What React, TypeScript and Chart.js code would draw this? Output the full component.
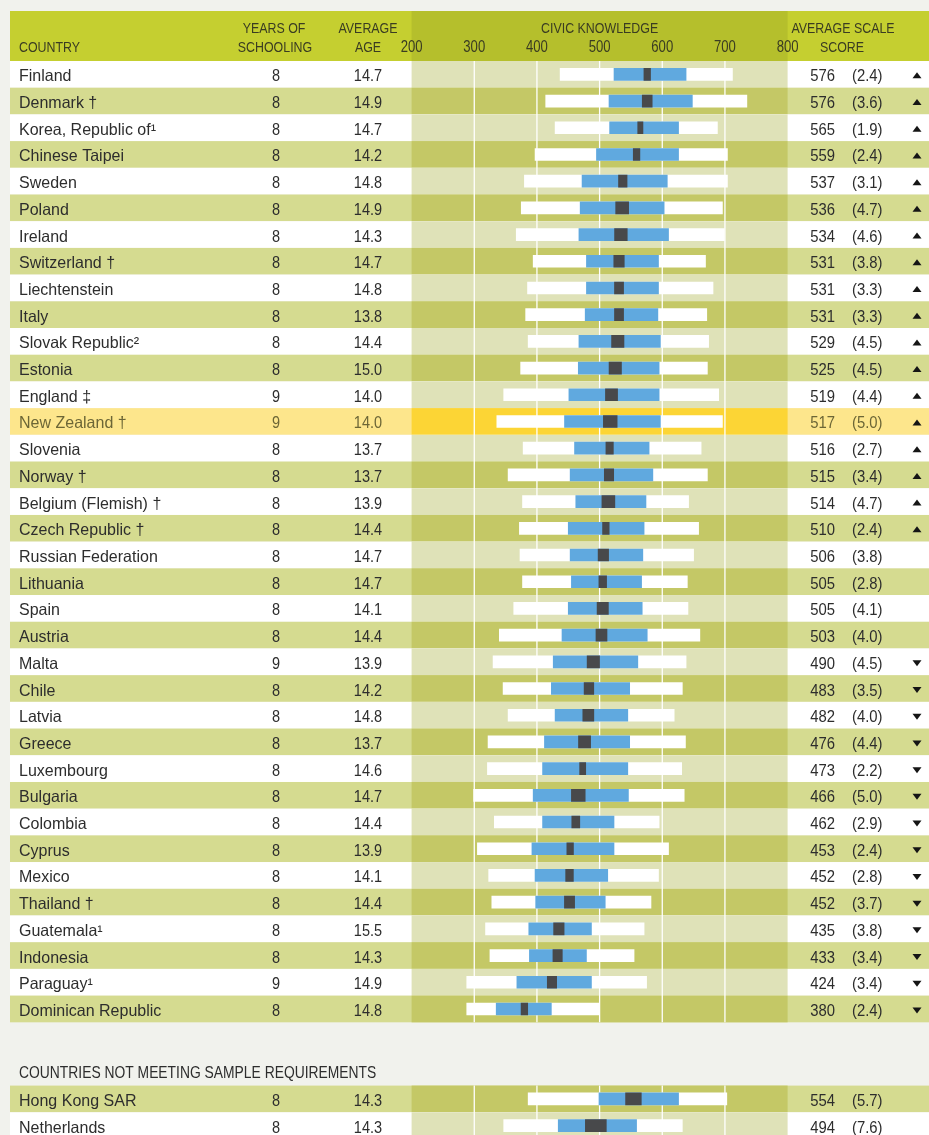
import React, { useEffect, useRef } from "react";
import { Chart, registerables } from "chart.js";

Chart.register(...registerables);

// ---------------- DATA ----------------
const countries = [
  "Finland", "Denmark †", "Korea, Republic of¹", "Chinese Taipei", "Sweden", "Poland", "Ireland",
  "Switzerland †", "Liechtenstein", "Italy", "Slovak Republic²", "Estonia", "England ‡", "New Zealand †",
  "Slovenia", "Norway †", "Belgium (Flemish) †", "Czech Republic †", "Russian Federation", "Lithuania", "Spain",
  "Austria", "Malta", "Chile", "Latvia", "Greece", "Luxembourg", "Bulgaria",
  "Colombia", "Cyprus", "Mexico", "Thailand †", "Guatemala¹", "Indonesia", "Paraguay¹", "Dominican Republic",
  "Hong Kong SAR", "Netherlands",
];
const yearsOfSchooling = [
  "8", "8", "8", "8", "8", "8", "8",
  "8", "8", "8", "8", "8", "9", "9",
  "8", "8", "8", "8", "8", "8", "8",
  "8", "9", "8", "8", "8", "8", "8",
  "8", "8", "8", "8", "8", "8", "9", "8",
  "8", "8",
];
const averageAge = [
  "14.7", "14.9", "14.7", "14.2", "14.8", "14.9", "14.3",
  "14.7", "14.8", "13.8", "14.4", "15.0", "14.0", "14.0",
  "13.7", "13.7", "13.9", "14.4", "14.7", "14.7", "14.1",
  "14.4", "13.9", "14.2", "14.8", "13.7", "14.6", "14.7",
  "14.4", "13.9", "14.1", "14.4", "15.5", "14.3", "14.9", "14.8",
  "14.3", "14.3",
];
const averageScore = [
  576, 576, 565, 559, 537, 536, 534,
  531, 531, 531, 529, 525, 519, 517,
  516, 515, 514, 510, 506, 505, 505,
  503, 490, 483, 482, 476, 473, 466,
  462, 453, 452, 452, 435, 433, 424, 380,
  554, 494,
];
const standardError = [
  2.4, 3.6, 1.9, 2.4, 3.1, 4.7, 4.6,
  3.8, 3.3, 3.3, 4.5, 4.5, 4.4, 5.0,
  2.7, 3.4, 4.7, 2.4, 3.8, 2.8, 4.1,
  4.0, 4.5, 3.5, 4.0, 4.4, 2.2, 5.0,
  2.9, 2.4, 2.8, 3.7, 3.8, 3.4, 3.4, 2.4,
  5.7, 7.6,
];
const percentile5 = [
  437, 414, 429, 397, 380, 375, 367,
  394, 385, 382, 386, 374, 347, 336,
  378, 354, 377, 372, 373, 377, 363,
  340, 330, 346, 354, 322, 321, 299,
  332, 305, 323, 328, 318, 325, 288, 288,
  386, 347,
];
const percentile25 = [
  523, 515, 516, 495, 472, 469, 467,
  479, 479, 477, 467, 466, 451, 444,
  460, 453, 462, 450, 453, 455, 450,
  440, 426, 423, 429, 412, 409, 394,
  409, 392, 397, 398, 387, 388, 368, 335,
  499, 434,
];
const percentile75 = [
  638, 648, 626, 626, 608, 603, 610,
  594, 594, 593, 597, 595, 595, 597,
  579, 585, 574, 571, 569, 567, 568,
  576, 561, 548, 545, 548, 545, 546,
  523, 523, 513, 509, 487, 479, 487, 423,
  626, 559,
];
const percentile95 = [
  712, 735, 688, 704, 704, 696, 699,
  669, 681, 671, 674, 672, 690, 696,
  662, 672, 642, 658, 650, 640, 641,
  660, 638, 632, 619, 637, 631, 635,
  595, 610, 594, 582, 571, 555, 575, 500,
  703, 632,
];
// "up" = significantly above ICCS average, "down" = below, "" = not significantly different
const trend = [
  "up", "up", "up", "up", "up", "up", "up",
  "up", "up", "up", "up", "up", "up", "up",
  "up", "up", "up", "up", "", "", "",
  "", "down", "down", "down", "down", "down", "down",
  "down", "down", "down", "down", "down", "down", "down", "down",
  "", "",
];
const xTicks = [200, 300, 400, 500, 600, 700, 800];
const gridValues = [300, 400, 500, 600, 700];
const MAIN_COUNT = 36; // countries meeting sample requirements
const HIGHLIGHT = "New Zealand †";
const sectionTitle = "COUNTRIES NOT MEETING SAMPLE REQUIREMENTS";

// ---------------- LAYOUT / STYLE ----------------
const W = 929;
const H = 1135;
const TABLE_LEFT = 10;
const HEADER_TOP = 11;
const HEADER_BOTTOM = 61;
const PLOT_LEFT = 411.6;
const PLOT_RIGHT = 787.6;
const GAP_ROWS = 2.37;
const Y_MAX = 39.72;
const CI_FACTOR = 2.2;

const SANS = "'Liberation Sans', Arial, sans-serif";
const COL = {
  page: "#f1f2ed",
  header: "#c5cf30",
  headerPlot: "#b5bf2c",
  headText: "#3a3c22",
  text: "#2d2d2d",
  hiText: "#6c6636",
  white: { side: "#ffffff", plot: "#dfe2b8" },
  green: { side: "#d5db90", plot: "#c4c866" },
  yellow: { side: "#fde68c", plot: "#fcd535" },
  grid: "#ffffff",
  bar: "#ffffff",
  iqr: "#60a9df",
  mean: "#48494b",
  tri: "#151515",
};

const rowPos = (i: number) => (i < MAIN_COUNT ? i : i + GAP_ROWS);
const rowShade = (i: number) => {
  if (countries[i] === HIGHLIGHT) return COL.yellow;
  const green = i < MAIN_COUNT ? i % 2 === 1 : (i - MAIN_COUNT) % 2 === 0;
  return green ? COL.green : COL.white;
};

function txt(
  ctx: CanvasRenderingContext2D,
  s: string,
  x: number,
  y: number,
  align: CanvasTextAlign,
  size: number,
  sx: number,
  color: string
) {
  ctx.save();
  ctx.translate(x, y);
  ctx.scale(sx, 1);
  ctx.font = `${size}px ${SANS}`;
  ctx.textAlign = align;
  ctx.textBaseline = "alphabetic";
  ctx.fillStyle = color;
  ctx.fillText(s, 0, 0);
  ctx.restore();
}

const backgroundPlugin = {
  id: "tableBackground",
  beforeDraw(chart: any) {
    const { ctx, scales } = chart;
    const xs = scales.x;
    const ys = scales.y;
    const pl = xs.getPixelForValue(200);
    const pr = xs.getPixelForValue(800);
    ctx.save();
    ctx.fillStyle = COL.page;
    ctx.fillRect(0, 0, W, H);
    // header
    ctx.fillStyle = COL.header;
    ctx.fillRect(TABLE_LEFT, HEADER_TOP, W - TABLE_LEFT, HEADER_BOTTOM - HEADER_TOP);
    ctx.fillStyle = COL.headerPlot;
    ctx.fillRect(pl, HEADER_TOP, pr - pl, HEADER_BOTTOM - HEADER_TOP);
    // rows
    countries.forEach((_, i) => {
      const top = ys.getPixelForValue(rowPos(i) - 0.5);
      const bot = ys.getPixelForValue(rowPos(i) + 0.5);
      const sh = rowShade(i);
      ctx.fillStyle = sh.side;
      ctx.fillRect(TABLE_LEFT, top, W - TABLE_LEFT, bot - top);
      ctx.fillStyle = sh.plot;
      ctx.fillRect(pl, top, pr - pl, bot - top);
    });
    // grid lines within each block of rows
    const blocks = [
      [ys.getPixelForValue(-0.5), ys.getPixelForValue(MAIN_COUNT - 0.5)],
      [ys.getPixelForValue(rowPos(MAIN_COUNT) - 0.5), ys.getPixelForValue(rowPos(countries.length - 1) + 0.5)],
    ];
    ctx.strokeStyle = COL.grid;
    ctx.lineWidth = 1.3;
    gridValues.forEach((v) => {
      const x = xs.getPixelForValue(v);
      blocks.forEach(([a, b]) => {
        ctx.beginPath();
        ctx.moveTo(x, a);
        ctx.lineTo(x, b);
        ctx.stroke();
      });
    });
    ctx.restore();
  },
};

const textPlugin = {
  id: "tableText",
  afterDraw(chart: any) {
    const { ctx, scales } = chart;
    const xs = scales.x;
    const ys = scales.y;
    const L1 = 33;
    const L2 = 52;
    const HS = 15.5;
    const HX = 0.8;
    txt(ctx, "COUNTRY", 19, L2, "left", HS, HX, COL.headText);
    txt(ctx, "YEARS OF", 274, L1, "center", HS, HX, COL.headText);
    txt(ctx, "SCHOOLING", 275, L2, "center", HS, HX, COL.headText);
    txt(ctx, "AVERAGE", 368, L1, "center", HS, HX, COL.headText);
    txt(ctx, "AGE", 368, L2, "center", HS, HX, COL.headText);
    txt(ctx, "CIVIC KNOWLEDGE", (xs.getPixelForValue(200) + xs.getPixelForValue(800)) / 2, L1, "center", HS, HX, COL.headText);
    xTicks.forEach((t) => {
      txt(ctx, String(t), xs.getPixelForValue(t), L2, "center", 16, 0.82, COL.headText);
    });
    txt(ctx, "AVERAGE SCALE", 843, L1, "center", HS, HX, COL.headText);
    txt(ctx, "SCORE", 842, L2, "center", HS, HX, COL.headText);

    // section title
    const secTop = ys.getPixelForValue(rowPos(MAIN_COUNT) - 0.5);
    txt(ctx, sectionTitle, 19, secTop - 8, "left", 16.5, 0.84, COL.text);

    countries.forEach((name, i) => {
      const cy = ys.getPixelForValue(rowPos(i));
      const base = cy + 7;
      const color = name === HIGHLIGHT ? COL.hiText : COL.text;
      txt(ctx, name, 19, base, "left", 16.5, 0.97, color);
      txt(ctx, yearsOfSchooling[i], 276, base, "center", 16.5, 0.88, color);
      txt(ctx, averageAge[i], 368, base, "center", 16.5, 0.88, color);
      txt(ctx, String(averageScore[i]), 835, base, "right", 16.5, 0.9, color);
      txt(ctx, `(${standardError[i].toFixed(1)})`, 852, base, "left", 16.5, 0.9, color);
      const t = trend[i];
      if (t) {
        ctx.save();
        ctx.fillStyle = COL.tri;
        ctx.beginPath();
        const tx = 917;
        const ty = cy + 1;
        if (t === "up") {
          ctx.moveTo(tx - 4.5, ty + 3);
          ctx.lineTo(tx + 4.5, ty + 3);
          ctx.lineTo(tx, ty - 3);
        } else {
          ctx.moveTo(tx - 4.5, ty - 2.5);
          ctx.lineTo(tx + 4.5, ty - 2.5);
          ctx.lineTo(tx, ty + 3.5);
        }
        ctx.closePath();
        ctx.fill();
        ctx.restore();
      }
    });
  },
};

export default function App() {
  const ref = useRef<HTMLCanvasElement | null>(null);
  useEffect(() => {
    if (!ref.current) return;
    const idx = countries.map((_, i) => i);
    const common = { grouped: false, barThickness: 12, borderWidth: 0, borderSkipped: false };
    const chart = new Chart(ref.current, {
      type: "bar",
      data: {
        datasets: [
          {
            ...common,
            label: "Mean (95% confidence interval)",
            data: idx.map((i) => ({
              y: rowPos(i),
              x: [averageScore[i] - CI_FACTOR * standardError[i], averageScore[i] + CI_FACTOR * standardError[i]],
            })),
            backgroundColor: COL.mean,
            order: 1,
          },
          {
            ...common,
            label: "25th–75th percentile",
            data: idx.map((i) => ({ y: rowPos(i), x: [percentile25[i], percentile75[i]] })),
            backgroundColor: COL.iqr,
            order: 2,
          },
          {
            ...common,
            label: "5th–95th percentile",
            data: idx.map((i) => ({ y: rowPos(i), x: [percentile5[i], percentile95[i]] })),
            backgroundColor: COL.bar,
            order: 3,
          },
        ] as any,
      },
      options: {
        indexAxis: "y",
        responsive: false,
        maintainAspectRatio: false,
        animation: false,
        devicePixelRatio: 1,
        layout: { padding: { left: PLOT_LEFT, right: W - PLOT_RIGHT, top: HEADER_BOTTOM, bottom: 0 } },
        scales: {
          x: { type: "linear", min: 200, max: 800, display: false, offset: false },
          y: { type: "linear", min: -0.5, max: Y_MAX, reverse: true, display: false, offset: false, grid: { offset: false } },
        },
        plugins: { legend: { display: false }, tooltip: { enabled: false } },
      } as any,
      plugins: [backgroundPlugin, textPlugin],
    });
    return () => chart.destroy();
  }, []);
  return (
    <div style={{ position: "absolute", left: 0, top: 0, width: W, height: H, overflow: "hidden" }}>
      <canvas ref={ref} width={W} height={H} style={{ width: W, height: H, display: "block" }} />
    </div>
  );
}
